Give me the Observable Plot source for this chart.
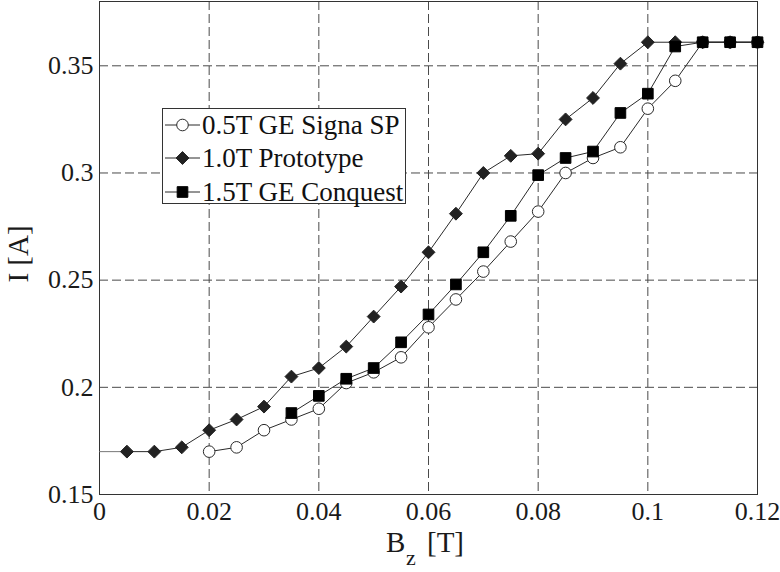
<!DOCTYPE html>
<html>
<head>
<meta charset="utf-8">
<script src="https://cdn.jsdelivr.net/npm/d3@7"></script>
<script src="https://cdn.jsdelivr.net/npm/@observablehq/plot@0.6"></script>
<style>
  html, body { margin: 0; padding: 0; background: #fff; }
  #chart { width: 780px; height: 572px; }
</style>
</head>
<body>
<div id="chart"></div>
<script>
// ---- Data ----
const xTicks = [0, 0.02, 0.04, 0.06, 0.08, 0.1, 0.12];
const yTicks = [0.15, 0.2, 0.25, 0.3, 0.35];
const seriesNames = ["0.5T GE Signa SP", "1.0T Prototype", "1.5T GE Conquest"];

const bSigna = [0.02, 0.025, 0.03, 0.035, 0.04, 0.045, 0.05, 0.055, 0.06, 0.065, 0.07, 0.075, 0.08, 0.085, 0.09, 0.095, 0.1, 0.105, 0.11, 0.115, 0.12];
const iSigna = [0.170, 0.172, 0.180, 0.185, 0.190, 0.202, 0.207, 0.214, 0.228, 0.241, 0.254, 0.268, 0.282, 0.300, 0.307, 0.312, 0.330, 0.343, 0.361, 0.361, 0.361];

const bProto = [0.005, 0.01, 0.015, 0.02, 0.025, 0.03, 0.035, 0.04, 0.045, 0.05, 0.055, 0.06, 0.065, 0.07, 0.075, 0.08, 0.085, 0.09, 0.095, 0.1, 0.105, 0.11, 0.115, 0.12];
const iProto = [0.170, 0.170, 0.172, 0.180, 0.185, 0.191, 0.205, 0.209, 0.219, 0.233, 0.247, 0.263, 0.281, 0.300, 0.308, 0.309, 0.325, 0.335, 0.351, 0.361, 0.361, 0.361, 0.361, 0.361];

const bConq = [0.035, 0.04, 0.045, 0.05, 0.055, 0.06, 0.065, 0.07, 0.075, 0.08, 0.085, 0.09, 0.095, 0.1, 0.105, 0.11, 0.115, 0.12];
const iConq = [0.188, 0.196, 0.204, 0.209, 0.221, 0.234, 0.248, 0.263, 0.280, 0.299, 0.307, 0.310, 0.328, 0.337, 0.359, 0.361, 0.361, 0.361];

// lead-in line segment (no markers) at the left edge
const bLead = [0, 0.005];
const iLead = [0.17, 0.17];

const toRows = (bs, is) => bs.map((b, k) => ({b, i: is[k]}));
const signa = toRows(bSigna, iSigna);
const proto = toRows(bProto, iProto);
const conq = toRows(bConq, iConq);
const lead = toRows(bLead, iLead);

const FONT = "'Liberation Serif', 'Times New Roman', serif";
const fmt = d => String(+d.toFixed(3));
const LINE = "#2a2a2a";
const GRID = "#4a4a4a";

const chart = Plot.plot({
  width: 780,
  height: 572,
  marginLeft: 99,
  marginRight: 23,
  marginTop: 1,
  marginBottom: 78,
  style: { fontFamily: FONT, fontSize: "26px", background: "#fff", color: "#1a1a1a" },
  x: { domain: [0, 0.12] },
  y: { domain: [0.15, 0.38] },
  marks: [
    Plot.gridX(xTicks.slice(1, -1), { stroke: GRID, strokeOpacity: 1, strokeDasharray: "9,4", strokeWidth: 1 }),
    Plot.gridY(yTicks.slice(1), { stroke: GRID, strokeOpacity: 1, strokeDasharray: "9,4", strokeWidth: 1 }),
    Plot.frame({ stroke: "#333", strokeWidth: 1 }),
    Plot.axisX(xTicks, { tickSize: 0, tickPadding: 7, tickFormat: fmt, label: null, fontSize: 26, fontFamily: FONT }),
    Plot.axisY(yTicks, { tickSize: 0, tickPadding: 6, tickFormat: fmt, label: null, fontSize: 26, fontFamily: FONT }),
    Plot.line(lead, { x: "b", y: "i", stroke: "#777", strokeWidth: 1 }),
    Plot.line(signa, { x: "b", y: "i", stroke: LINE, strokeWidth: 1 }),
    Plot.dot(signa, { x: "b", y: "i", symbol: "circle", r: 5.8, fill: "#fff", stroke: LINE, strokeWidth: 1 }),
    Plot.line(proto, { x: "b", y: "i", stroke: LINE, strokeWidth: 1 }),
    Plot.dot(proto, { x: "b", y: "i", symbol: "diamond2", r: 5.8, fill: "#222", stroke: "#222", strokeWidth: 1 }),
    Plot.line(conq, { x: "b", y: "i", stroke: LINE, strokeWidth: 1 }),
    Plot.dot(conq, { x: "b", y: "i", symbol: "square", r: 6.0, fill: "#000", stroke: "#000", strokeWidth: 1 })
  ]
});

document.getElementById("chart").appendChild(chart);
const svg = d3.select(chart);

// y-axis label
svg.append("text")
  .attr("transform", "translate(28,254) rotate(-90)")
  .attr("text-anchor", "middle")
  .attr("font-size", 29)
  .attr("fill", "#1a1a1a")
  .attr("font-family", FONT)
  .text("I [A]");

// x-axis label with subscript
const xl = svg.append("text")
  .attr("x", 386).attr("y", 552)
  .attr("text-anchor", "start")
  .attr("font-size", 29)
  .attr("fill", "#1a1a1a")
  .attr("font-family", FONT);
xl.append("tspan").text("B");
xl.append("tspan").attr("x", 406).attr("y", 565).attr("font-size", 22).text("z");
xl.append("tspan").attr("x", 427).attr("y", 552).text("[T]");

// legend
const lg = svg.append("g").attr("font-family", FONT).attr("text-anchor", "start");
lg.append("rect").attr("x", 162.5).attr("y", 108.5).attr("width", 243).attr("height", 95)
  .attr("fill", "#fff").attr("stroke", "#333").attr("stroke-width", 1);
const rows = [125, 158, 192];
const symbolPaths = [
  d3.symbol(d3.symbolCircle, Math.PI * 5.8 * 5.8)(),
  d3.symbol(d3.symbolDiamond2, Math.PI * 5.8 * 5.8)(),
  d3.symbol(d3.symbolSquare, Math.PI * 6.0 * 6.0)()
];
const fills = ["#fff", "#222", "#000"];
seriesNames.forEach((name, k) => {
  const y = rows[k];
  lg.append("line").attr("x1", 165).attr("x2", 200).attr("y1", y).attr("y2", y).attr("stroke", LINE);
  lg.append("path").attr("d", symbolPaths[k]).attr("transform", `translate(182.5,${y})`)
    .attr("fill", fills[k]).attr("stroke", k === 0 ? LINE : fills[k]);
  lg.append("text").attr("x", 202).attr("y", y).attr("dy", "0.35em")
    .attr("text-anchor", "start")
    .attr("font-size", 27).attr("fill", "#111").text(name);
});
</script>
</body>
</html>
